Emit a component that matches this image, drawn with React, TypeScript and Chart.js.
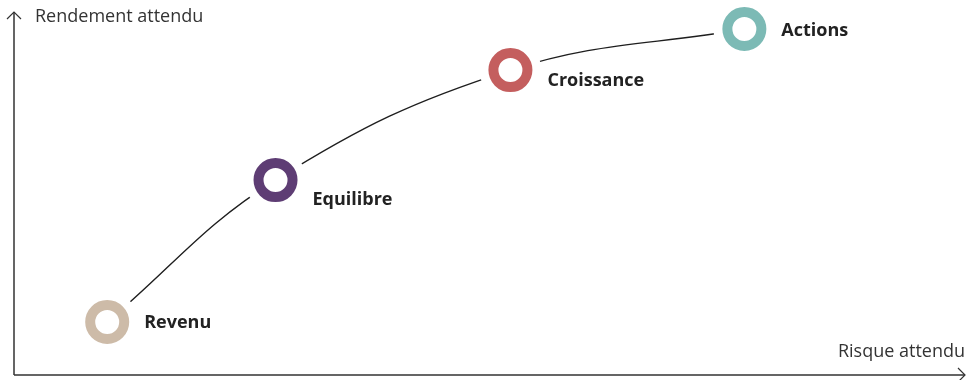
import React, { useEffect, useRef } from "react";
import { Chart, registerables } from "chart.js";

Chart.register(...registerables);

const categories = ["Revenu", "Equilibre", "Croissance", "Actions"];
const risk = [9.8, 27.5, 52.2, 76.8];
const expectedReturn = [14.6, 53.7, 84.0, 95.3];
const ringColors = ["#cdbba8", "#5e3d74", "#c45e5e", "#7cbab5"];
const xAxisTitle = "Risque attendu";
const yAxisTitle = "Rendement attendu";

const labelDx = [37, 37, 37, 37];
const labelDy = [1, 20, 11, 2];

const FONT = '"Open Sans", "Noto Sans", sans-serif';

const decorPlugin = {
  id: "decor",
  afterDatasetsDraw(chart: any) {
    const { ctx, chartArea } = chart;
    const { left, right, top, bottom } = chartArea;
    ctx.save();
    // axes
    ctx.strokeStyle = "#333333";
    ctx.lineWidth = 1.5;
    ctx.beginPath();
    ctx.moveTo(left, bottom);
    ctx.lineTo(left, top);
    ctx.moveTo(left, bottom);
    ctx.lineTo(right, bottom);
    ctx.stroke();
    ctx.lineWidth = 1.2;
    ctx.beginPath();
    ctx.moveTo(left - 7, top + 7);
    ctx.lineTo(left, top);
    ctx.lineTo(left + 7, top + 7);
    ctx.moveTo(right - 7, bottom - 7);
    ctx.lineTo(right, bottom);
    ctx.lineTo(right - 7, bottom + 7);
    ctx.stroke();

    // axis titles
    ctx.fillStyle = "#333333";
    ctx.font = `18px ${FONT}`;
    ctx.textBaseline = "middle";
    ctx.textAlign = "left";
    ctx.fillText(yAxisTitle, left + 21, top + 5);
    ctx.textAlign = "right";
    ctx.fillText(xAxisTitle, right, bottom - 23);

    // point labels
    const xs = chart.scales.x;
    const ys = chart.scales.y;
    ctx.fillStyle = "#222222";
    ctx.font = `bold 18px ${FONT}`;
    ctx.textAlign = "left";
    categories.forEach((name, i) => {
      const px = xs.getPixelForValue(risk[i]);
      const py = ys.getPixelForValue(expectedReturn[i]);
      ctx.fillText(name, px + labelDx[i], py + labelDy[i]);
    });
    ctx.restore();
  },
};

export default function App() {
  const canvasRef = useRef<HTMLCanvasElement | null>(null);

  useEffect(() => {
    document.body.style.margin = "0";
    const points = risk.map((x, i) => ({ x, y: expectedReturn[i] }));
    const chart = new Chart(canvasRef.current as HTMLCanvasElement, {
      type: "scatter",
      data: {
        datasets: [
          {
            label: "courbe",
            data: points,
            showLine: true,
            borderColor: "#1e1e1e",
            borderWidth: 1.4,
            pointRadius: 0,
            tension: 0.4,
            clip: false,
            order: 3,
          } as any,
          {
            label: "halo",
            data: points,
            showLine: false,
            pointRadius: 31,
            pointBackgroundColor: "#ffffff",
            pointBorderWidth: 0,
            clip: false,
            order: 2,
          } as any,
          {
            label: "profils",
            data: points,
            showLine: false,
            pointRadius: 17,
            pointBorderWidth: 10,
            pointBorderColor: ringColors,
            pointBackgroundColor: "#ffffff",
            clip: false,
            order: 1,
          } as any,
        ],
      },
      options: {
        animation: false,
        responsive: false,
        maintainAspectRatio: false,
        layout: { autoPadding: false, padding: { left: 14, right: 8, top: 12, bottom: 5 } } as any,
        plugins: { legend: { display: false }, tooltip: { enabled: false } },
        events: [],
        scales: {
          x: { type: "linear", min: 0, max: 100, display: false },
          y: { type: "linear", min: 0, max: 100, display: false },
        },
      },
      plugins: [decorPlugin],
    });
    return () => chart.destroy();
  }, []);

  return (
    <div style={{ width: 973, height: 380 }}>
      <canvas ref={canvasRef} width={973} height={380} style={{ display: "block" }} />
    </div>
  );
}
